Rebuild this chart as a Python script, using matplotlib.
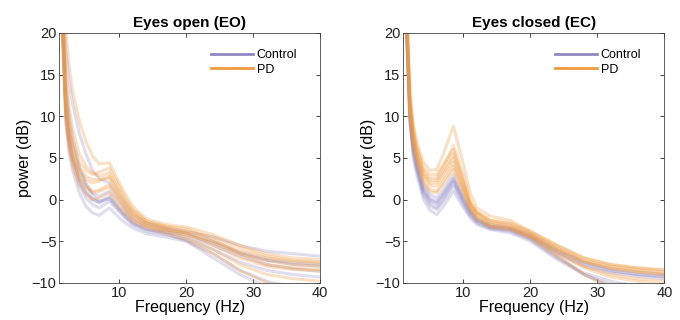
import matplotlib
matplotlib.use("Agg")
import matplotlib.pyplot as plt

plt.rcParams['font.family'] = ['Liberation Sans', 'DejaVu Sans']

# frekans noktalari (Hz)
F = [1.5, 2, 2.5, 3, 4, 5, 6, 7, 8.5, 10, 11, 12, 14, 17, 20, 24, 28, 32, 36, 40]

# Eyes open - control
eo_control = [
    [21, 10.5, 7, 5, 2.2, 0.8, 0, -0.3, 0.4, -1, -1.8, -2.6, -3.4, -3.9, -4.5, -5.5, -6.8, -7.8, -8.3, -8.6],
    [20, 9, 5.5, 3.5, 0.8, -0.8, -1.6, -1.9, -1, -2.2, -2.9, -3.4, -4.1, -4.5, -5, -6.5, -8.5, -9.8, -10.5, -11],
    [26, 18, 14, 11.5, 8, 5.5, 3.5, 2.5, 2, 0.3, -0.8, -1.8, -2.8, -3.4, -3.8, -4.5, -5.5, -6.2, -6.5, -6.8],
    [20, 10, 6.5, 4.5, 1.8, 0.2, -0.6, -1, -0.2, -1.5, -2.3, -3, -3.8, -4.2, -4.8, -6, -7.5, -8.5, -9, -9.3],
    [22, 12.5, 8.5, 6.5, 3.5, 1.8, 0.8, 0.4, 1, -0.4, -1.4, -2.3, -3.1, -3.6, -4, -5, -6.3, -7.2, -7.6, -7.8],
    [21, 10.5, 7, 5, 2.5, 1, 0, -0.4, 0.2, -1.2, -2, -2.8, -3.6, -4.1, -5, -7, -9, -10.5, -11.5, -12],
    [23, 14, 10, 7.5, 4, 2, 0.5, -0.2, 0.1, -1.3, -2.2, -2.9, -3.6, -3.9, -4.2, -5.2, -6.5, -7.3, -7.8, -8],
]

# Eyes open - PD
eo_pd = [
    [21, 11, 7.5, 5.5, 3.3, 2.4, 2, 2.2, 2.8, 0.8, -0.5, -1.6, -2.8, -3.5, -4.2, -5.2, -6.5, -7.3, -7.8, -8],
    [28, 20, 16, 13, 9.5, 7, 5.2, 4.3, 4.4, 2, 0.5, -0.8, -2.3, -3, -3.3, -4.2, -5.5, -6.5, -7, -7.2],
    [20, 9.5, 6, 4, 1.8, 0.6, 0, 0.2, 0.8, -0.9, -1.8, -2.6, -3.4, -4.1, -4.8, -6.5, -8.5, -10, -10.8, -11.5],
    [22, 13, 9, 7, 4.5, 3.5, 3, 3.3, 3.8, 1.5, 0, -1.2, -2.6, -3.3, -3.8, -4.5, -5.8, -6.8, -7.3, -7.5],
    [21, 10.5, 7, 5, 2.8, 1.6, 1, 1.2, 1.8, 0, -1.2, -2.1, -3.1, -3.8, -4.5, -6, -7.8, -9, -9.5, -9.8],
    [24, 15, 11, 8.5, 5.5, 4, 3.2, 2.8, 3.2, 1.1, -0.3, -1.3, -2.6, -3.2, -3.5, -4.8, -6.5, -7.8, -8.2, -8.4],
    [21, 11, 7.2, 5.2, 2.6, 1.4, 0.8, 1, 1.5, -0.2, -1.3, -2.3, -3.2, -3.7, -4, -5.5, -7, -8, -8.4, -8.6],
    [22, 12, 8.3, 6.2, 3.8, 2.8, 2.4, 2.4, 2.6, 0.5, -0.8, -1.8, -2.9, -3.5, -4, -5, -6.2, -7, -7.4, -7.6],
]

# Eyes closed - control
ec_control = [
    [21, 10, 6, 4, 1, -0.2, -0.6, 0.4, 2.2, -0.2, -1.6, -2.5, -3.3, -3.6, -4.6, -6.5, -8, -8.8, -9.2, -9.5],
    [20, 9, 5, 3, 0, -1.3, -1.8, -0.8, 1, -1, -2.2, -3, -3.6, -4, -5, -7.2, -9, -10.2, -11, -11.5],
    [22, 11, 7, 5, 1.8, 0.6, 0.2, 1.2, 3, 0.4, -1.2, -2.2, -3, -3.3, -4.2, -6, -7.5, -8.3, -8.7, -9],
    [20, 9.5, 5.5, 3.5, 0.5, -0.8, -1.2, -0.2, 1.6, -0.6, -2, -2.8, -3.5, -3.8, -4.8, -7, -8.8, -9.8, -10.4, -10.8],
    [21, 10.5, 6.5, 4.5, 1.4, 0.2, -0.2, 0.8, 2.6, 0.1, -1.4, -2.4, -3.2, -3.5, -4.4, -6.2, -7.6, -8.5, -9, -9.2],
    [20, 9.5, 5.8, 3.8, 0.8, -0.5, -1, 0, 2, -0.4, -1.8, -2.7, -3.4, -3.7, -4.7, -6.8, -9, -10.5, -11.2, -11.8],
    [21, 10, 6.2, 4.2, 1.2, 0, -0.4, 0.6, 2.4, 0, -1.5, -2.5, -3.2, -3.5, -4.4, -6.3, -7.8, -8.6, -9, -9.3],
]

# Eyes closed - PD
ec_pd = [
    [22, 11, 7.5, 5.5, 3, 2, 2, 3.2, 5, 1.6, -0.6, -1.8, -2.8, -3.2, -4.2, -6, -7.5, -8.3, -8.7, -9],
    [24, 13, 9, 7, 4.5, 3.5, 3.6, 5.5, 8.8, 4.2, 0.8, -1, -2, -2.5, -3.8, -5.5, -7, -7.8, -8.2, -8.5],
    [21, 10.5, 7, 5, 2.3, 1.2, 1, 2.2, 4, 1, -1, -2.2, -3.2, -3.5, -4.5, -6.5, -8.2, -9.3, -9.8, -10.2],
    [23, 12, 8.2, 6.2, 3.5, 2.6, 2.6, 4, 6.5, 2.8, -0.2, -1.5, -2.5, -2.9, -4, -5.8, -7.3, -8, -8.4, -8.7],
    [22, 11, 7.2, 5.2, 2.7, 1.7, 1.6, 2.7, 4.5, 1.3, -0.8, -2, -3, -3.4, -4.4, -6.3, -8, -9, -9.5, -9.8],
    [23, 12.5, 8.5, 6.5, 3.8, 3, 3, 4.2, 6, 2.3, -0.4, -1.5, -2.5, -2.8, -3.8, -5.5, -7, -7.8, -8.2, -8.4],
    [21, 10, 6.8, 4.8, 2, 0.9, 0.8, 1.8, 3.6, 0.8, -1.2, -2.4, -3.3, -3.6, -4.6, -6.8, -9, -10.5, -11.3, -12],
    [22, 11.5, 7.8, 5.8, 3.2, 2.3, 2.3, 3.5, 5.5, 2, -0.5, -1.6, -2.7, -3.1, -4.1, -5.9, -7.4, -8.2, -8.6, -8.9],
]

basliklar = ["Eyes open (EO)", "Eyes closed (EC)"]
renk_kontrol = "#9088c4"
renk_pd = "#f09a3e"

fig = plt.figure(figsize=(6.8, 3.2), dpi=100)
eksenler = [fig.add_axes([0.087, 0.116, 0.384, 0.781]),
            fig.add_axes([0.593, 0.116, 0.384, 0.781])]

for ax, baslik, kontrol, pd_ in zip(eksenler, basliklar, [eo_control, ec_control], [eo_pd, ec_pd]):
    for egri in kontrol:
        ax.plot(F, egri, color=renk_kontrol, lw=2.2, alpha=0.28, solid_joinstyle="round")
    for egri in pd_:
        ax.plot(F, egri, color=renk_pd, lw=2.2, alpha=0.3, solid_joinstyle="round")

    # legend icin kalin cizgiler
    ax.plot([], [], color=renk_kontrol, lw=2, label="Control")
    ax.plot([], [], color=renk_pd, lw=2, label="PD")
    ax.legend(loc="upper right", frameon=False, fontsize=9, handlelength=3.4,
              handletextpad=0.25, labelspacing=0.2, borderaxespad=0.0,
              bbox_to_anchor=(0.93, 0.955))

    ax.set_xlim(1, 40)
    ax.set_ylim(-10, 20)
    ax.set_xticks([10, 20, 30, 40])
    ax.set_yticks([-10, -5, 0, 5, 10, 15, 20])
    ax.tick_params(direction="in", top=True, right=True, labelsize=10.5,
                   length=3, width=0.6, colors="#222222", pad=2)
    for s in ax.spines.values():
        s.set_linewidth(0.6)
        s.set_color("#444444")
    ax.set_title(baslik, fontsize=11, fontweight="bold", pad=4)
    ax.set_xlabel("Frequency (Hz)", fontsize=11.5, labelpad=0)
    ax.set_ylabel("power (dB)", fontsize=11.5, labelpad=0)

fig.savefig("out.png", dpi=100)
